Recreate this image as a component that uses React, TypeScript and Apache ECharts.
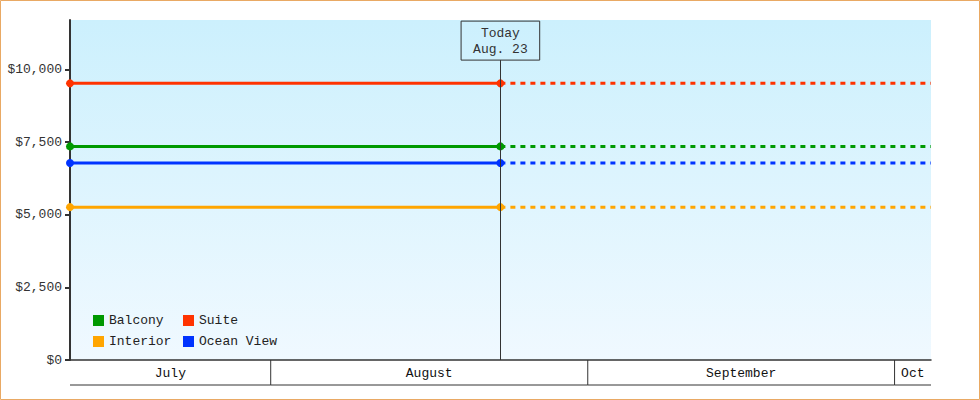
import * as echarts from 'echarts';
import React, { useEffect, useRef } from 'react';

// cabin categories and their (flat) prices
const cabinNames = ['Balcony', 'Suite', 'Interior', 'Ocean View'];
const cabinPrices = [7350, 9520, 5260, 6780];
const cabinColors = ['#009900', '#ff3300', '#ffa500', '#0033ff'];

// time range of the chart
const rangeStart = Date.UTC(2024, 6, 12, 9);
const todayDate = Date.UTC(2024, 7, 23, 11);
const rangeEnd = Date.UTC(2024, 9, 4, 13, 30);

// month band under the plot
const monthLabels = ['July', 'August', 'September', 'Oct'];
const monthStarts = [
  Date.UTC(2024, 6, 1),
  Date.UTC(2024, 7, 1),
  Date.UTC(2024, 8, 1),
  Date.UTC(2024, 9, 1),
];
const monthEnds = [
  Date.UTC(2024, 7, 1),
  Date.UTC(2024, 8, 1),
  Date.UTC(2024, 9, 1),
  Date.UTC(2024, 10, 1),
];

const yTicks = [0, 2500, 5000, 7500, 10000];
const todayLabel = 'Today\nAug. 23';

const FONT = 'Liberation Mono';

const App: React.FC = () => {
  const chartRef = useRef<HTMLDivElement>(null);

  useEffect(() => {
    const myChart = echarts.init(chartRef.current!, null, { renderer: 'svg' });

    const series: any[] = [];
    cabinNames.forEach((name, i) => {
      series.push({
        name,
        type: 'line',
        xAxisIndex: 0,
        yAxisIndex: 0,
        data: [
          [rangeStart, cabinPrices[i]],
          [todayDate, cabinPrices[i]],
        ],
        symbol: 'circle',
        symbolSize: 8,
        showSymbol: true,
        itemStyle: { color: cabinColors[i] },
        lineStyle: { color: cabinColors[i], width: 3 },
        z: 3,
        markLine:
          i === 0
            ? {
                silent: true,
                symbol: 'none',
                lineStyle: { color: '#333', width: 1, type: 'solid' },
                label: {
                  show: true,
                  position: 'end',
                  distance: 0,
                  formatter: todayLabel,
                  fontFamily: FONT,
                  fontSize: 13,
                  lineHeight: 16,
                  color: '#333',
                  borderColor: '#333',
                  borderWidth: 1,
                  padding: [4, 12, 3, 12],
                },
                data: [[{ coord: [todayDate, 0] }, { coord: [todayDate, 10320] }]],
              }
            : undefined,
      });
      series.push({
        name,
        type: 'line',
        xAxisIndex: 0,
        yAxisIndex: 0,
        data: [
          [todayDate, cabinPrices[i]],
          [rangeEnd, cabinPrices[i]],
        ],
        showSymbol: false,
        itemStyle: { color: cabinColors[i] },
        lineStyle: { color: cabinColors[i], width: 3, type: [5, 5] },
        z: 2,
      });
    });

    // month band
    series.push({
      type: 'custom',
      xAxisIndex: 1,
      yAxisIndex: 1,
      silent: true,
      data: monthLabels.map((m, i) => [monthStarts[i], monthEnds[i], i]),
      renderItem: (params: any, api: any) => {
        const cs = params.coordSys;
        const p0 = api.coord([api.value(0), 0.5]);
        const p1 = api.coord([api.value(1), 0.5]);
        const x0 = Math.max(p0[0], cs.x);
        const x1 = Math.min(p1[0], cs.x + cs.width);
        if (x1 <= x0) return null;
        const children: any[] = [
          {
            type: 'line',
            shape: { x1: x0, y1: cs.y + cs.height, x2: x1, y2: cs.y + cs.height },
            style: { stroke: '#333', lineWidth: 1 },
          },
          {
            type: 'text',
            x: (x0 + x1) / 2,
            y: cs.y + cs.height / 2 + 1,
            style: {
              text: monthLabels[api.value(2)],
              fontFamily: FONT,
              fontSize: 13,
              fill: '#111',
              align: 'center',
              verticalAlign: 'middle',
            },
          },
        ];
        if (p0[0] > cs.x) {
          children.push({
            type: 'line',
            shape: { x1: x0, y1: cs.y, x2: x0, y2: cs.y + cs.height },
            style: { stroke: '#333', lineWidth: 1 },
          });
        }
        return { type: 'group', children };
      },
    });

    const legendBase = {
      top: 314,
      orient: 'vertical',
      itemWidth: 11,
      itemHeight: 11,
      itemGap: 8,
      icon: 'rect',
      textStyle: { fontFamily: FONT, fontSize: 13, color: '#222' },
      selectedMode: false,
      padding: 0,
    };

    const option = {
      animation: false,
      backgroundColor: '#fff',
      graphic: [
        {
          type: 'rect',
          shape: { x: 0.5, y: 0.5, width: 979, height: 399 },
          style: { fill: 'none', stroke: '#e9a964', lineWidth: 1 },
          silent: true,
        },
      ],
      legend: [
        { ...legendBase, left: 93, data: ['Balcony', 'Interior'] },
        { ...legendBase, left: 183, data: ['Suite', 'Ocean View'] },
      ],
      grid: [
        {
          left: 70,
          right: 49,
          top: 20,
          bottom: 40,
          show: true,
          borderWidth: 0,
          backgroundColor: new echarts.graphic.LinearGradient(0, 0, 0, 1, [
            { offset: 0, color: '#ccf0fd' },
            { offset: 1, color: '#f0f9ff' },
          ]),
        },
        { left: 70, right: 49, top: 360, height: 25 },
      ],
      xAxis: [
        {
          type: 'time',
          gridIndex: 0,
          min: rangeStart,
          max: rangeEnd,
          axisLine: { show: true, lineStyle: { color: '#333', width: 1.5 } },
          axisTick: { show: false },
          axisLabel: { show: false },
          splitLine: { show: false },
        },
        {
          type: 'time',
          gridIndex: 1,
          min: rangeStart,
          max: rangeEnd,
          show: false,
        },
      ],
      yAxis: [
        {
          type: 'value',
          gridIndex: 0,
          min: 0,
          max: 11700,
          interval: 2500,
          axisLine: { show: true, lineStyle: { color: '#333', width: 2 } },
          axisTick: {
            show: true,
            length: 5,
            customValues: yTicks,
            lineStyle: { color: '#333', width: 2 },
          },
          axisLabel: {
            customValues: yTicks,
            margin: 8,
            fontFamily: FONT,
            fontSize: 13,
            color: '#333',
            formatter: (v: number) => '$' + v.toLocaleString('en-US'),
          },
          splitLine: { show: false },
        },
        {
          type: 'value',
          gridIndex: 1,
          min: 0,
          max: 1,
          show: false,
        },
      ],
      series,
    };

    myChart.setOption(option);

    return () => {
      myChart.dispose();
    };
  }, []);

  return (
    <div
      ref={chartRef}
      style={{ position: 'fixed', left: 0, top: 0, width: '980px', height: '400px' }}
    />
  );
};

export default App;
